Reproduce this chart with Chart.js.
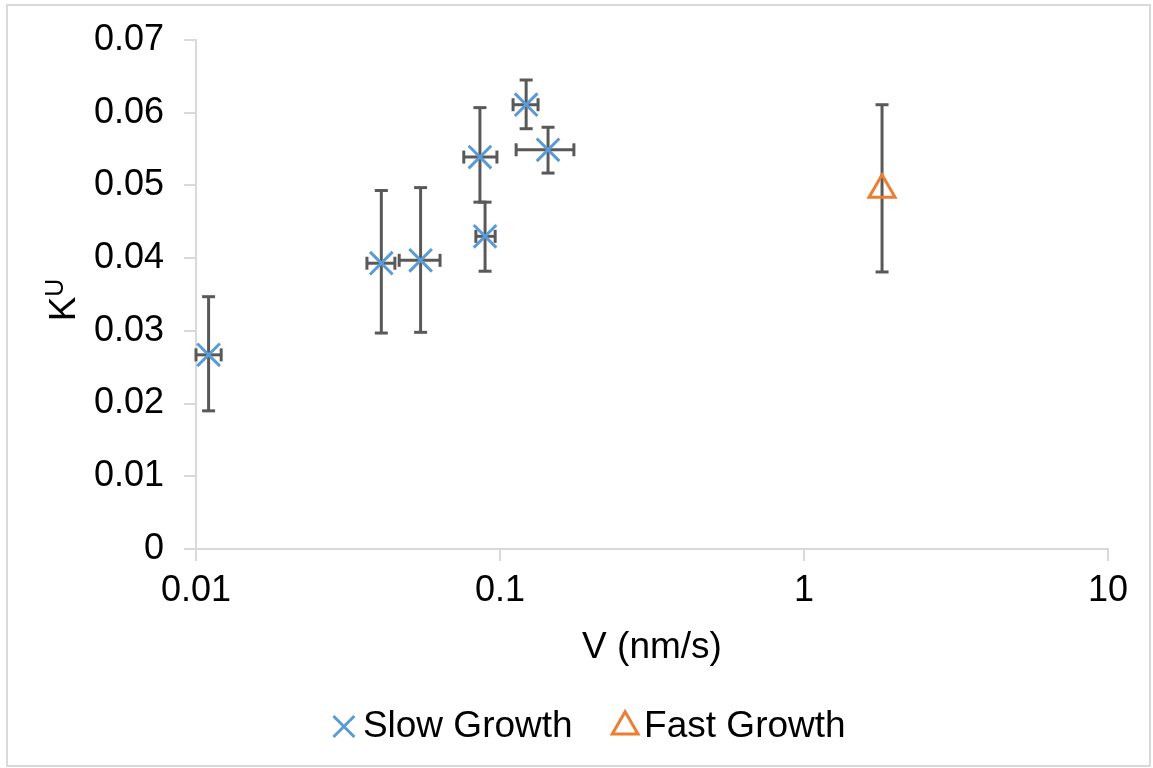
<!DOCTYPE html>
<html>
<head>
<meta charset="utf-8">
<title>K vs V</title>
<script src="https://cdn.jsdelivr.net/npm/chart.js@4.4.1/dist/chart.umd.min.js"></script>
<style>
  body { margin: 0; background: #fff; }
  canvas { display: block; }
</style>
</head>
<body>
<canvas id="growth" width="1153" height="768"></canvas>
<script>
// axis ticks
var xTicks = [0.01, 0.1, 1, 10];
var xTickLabels = ['0.01', '0.1', '1', '10'];
var yTicks = [0, 0.01, 0.02, 0.03, 0.04, 0.05, 0.06, 0.07];
var yTickLabels = ['0', '0.01', '0.02', '0.03', '0.04', '0.05', '0.06', '0.07'];

// slow growth: V (nm/s), K and their error ranges
var slowV = [0.0110, 0.0407, 0.0548, 0.0859, 0.0893, 0.1219, 0.1439];
var slowVLow = [0.0100, 0.0365, 0.0466, 0.0760, 0.0833, 0.1104, 0.1130];
var slowVHigh = [0.0121, 0.0451, 0.0635, 0.0977, 0.0964, 0.1334, 0.1750];
var slowK = [0.0267, 0.0393, 0.0397, 0.0539, 0.0430, 0.0611, 0.0549];
var slowKLow = [0.0190, 0.0297, 0.0298, 0.0477, 0.0382, 0.0578, 0.0517];
var slowKHigh = [0.0347, 0.0493, 0.0497, 0.0607, 0.0477, 0.0645, 0.0580];

// fast growth
var fastV = [1.806];
var fastK = [0.0494];
var fastKLow = [0.0381];
var fastKHigh = [0.0611];

function toPoints(xs, ys) {
  return xs.map(function(v, i) { return {x: v, y: ys[i]}; });
}

// draws the grey error bars under the markers
var errorBarPlugin = {
  id: 'errorBars',
  beforeDatasetsDraw: function(chart) {
    var ctx = chart.ctx;
    var sx = chart.scales.x;
    var sy = chart.scales.y;
    var cap = 6.5;

    function line(x1, y1, x2, y2) {
      ctx.beginPath();
      ctx.moveTo(x1, y1);
      ctx.lineTo(x2, y2);
      ctx.stroke();
    }

    ctx.save();
    ctx.strokeStyle = '#595959';
    ctx.lineWidth = 3;
    chart.data.datasets.forEach(function(ds) {
      var err = ds.errorBars;
      if (!err) return;
      ds.data.forEach(function(p, i) {
        var px = sx.getPixelForValue(p.x);
        var py = sy.getPixelForValue(p.y);
        if (err.yLow) {
          var y1 = sy.getPixelForValue(err.yLow[i]);
          var y2 = sy.getPixelForValue(err.yHigh[i]);
          line(px, y1, px, y2);
          line(px - cap, y1, px + cap, y1);
          line(px - cap, y2, px + cap, y2);
        }
        if (err.xLow) {
          var x1 = sx.getPixelForValue(err.xLow[i]);
          var x2 = sx.getPixelForValue(err.xHigh[i]);
          line(x1, py, x2, py);
          line(x1, py - cap, x1, py + cap);
          line(x2, py - cap, x2, py + cap);
        }
      });
    });
    ctx.restore();
  }
};

// outer frame and the K^U title (needs a superscript)
var framePlugin = {
  id: 'frame',
  beforeDraw: function(chart) {
    var ctx = chart.ctx;
    ctx.save();
    ctx.strokeStyle = '#d9d9d9';
    ctx.lineWidth = 2;
    ctx.strokeRect(7, 5, 1143, 761);
    ctx.restore();
  },
  afterDraw: function(chart) {
    var ctx = chart.ctx;
    var big = '37px "Liberation Sans", Arial, sans-serif';
    var small = '25px "Liberation Sans", Arial, sans-serif';
    ctx.save();
    ctx.fillStyle = '#000';
    ctx.textBaseline = 'alphabetic';
    ctx.textAlign = 'left';
    ctx.font = big;
    var wK = ctx.measureText('K').width;
    ctx.font = small;
    var wU = ctx.measureText('U').width;
    ctx.translate(75, 300);
    ctx.rotate(-Math.PI / 2);
    var start = -(wK + wU) / 2;
    ctx.font = big;
    ctx.fillText('K', start, 0);
    ctx.font = small;
    ctx.fillText('U', start + wK, -12);
    ctx.restore();
  }
};

Chart.defaults.font.family = '"Liberation Sans", Arial, sans-serif';
Chart.defaults.color = '#000';

var ctx = document.getElementById('growth');
new Chart(ctx, {

  type: 'scatter',
  data: {

    datasets: [{

      label: 'Slow Growth',
      data: toPoints(slowV, slowK),
      errorBars: {xLow: slowVLow, xHigh: slowVHigh, yLow: slowKLow, yHigh: slowKHigh},
      pointStyle: 'crossRot',
      pointRadius: 16,
      pointHoverRadius: 16,
      borderColor: '#5b9bd5',
      backgroundColor: '#5b9bd5',
      borderWidth: 3
    }, {

      label: 'Fast Growth',
      data: toPoints(fastV, fastK),
      errorBars: {yLow: fastKLow, yHigh: fastKHigh},
      pointStyle: 'triangle',
      pointRadius: 15,
      pointHoverRadius: 15,
      borderColor: '#ed7d31',
      backgroundColor: 'rgba(0,0,0,0)',
      borderWidth: 3
    }]
  },
  options: {

    responsive: false,
    animation: false,
    devicePixelRatio: 1,
    layout: {
      padding: {left: 81, right: 45, top: 40, bottom: 13}
    },
    plugins: {
      tooltip: {enabled: false},
      legend: {
        position: 'bottom',
        labels: {
          usePointStyle: true,
          boxWidth: 1,
          boxHeight: 21,
          padding: 52,
          color: '#000',
          font: {size: 37}
        }
      }
    },
    scales: {
      x: {
        type: 'logarithmic',
        min: 0.01,
        max: 10,
        afterBuildTicks: function(scale) {
          scale.ticks = xTicks.map(function(v) { return {value: v}; });
        },
        afterFit: function(scale) {
          scale.height = 107;
        },
        ticks: {
          callback: function(value, index) { return xTickLabels[index]; },
          maxRotation: 0,
          autoSkip: false,
          padding: 12,
          color: '#000',
          font: {size: 36, lineHeight: 1}
        },
        grid: {drawOnChartArea: false, drawTicks: true, tickLength: 12, color: '#d9d9d9', lineWidth: 2},
        border: {display: true, color: '#d9d9d9', width: 2},
        title: {
          display: true,
          text: 'V (nm/s)',
          color: '#000',
          font: {size: 37, lineHeight: 1},
          padding: {top: 0, bottom: -10}
        }
      },
      y: {
        type: 'linear',
        min: 0,
        max: 0.07,
        afterBuildTicks: function(scale) {
          scale.ticks = yTicks.map(function(v) { return {value: v}; });
        },
        afterFit: function(scale) {
          scale.width = 115;
        },
        ticks: {
          callback: function(value, index) { return yTickLabels[index]; },
          padding: 20,
          color: '#000',
          font: {size: 36, lineHeight: 1}
        },
        grid: {drawOnChartArea: false, drawTicks: true, tickLength: 12, color: '#d9d9d9', lineWidth: 2},
        border: {display: true, color: '#d9d9d9', width: 2}
      }
    }
  },
  plugins: [errorBarPlugin, framePlugin]
});
</script>
</body>
</html>
